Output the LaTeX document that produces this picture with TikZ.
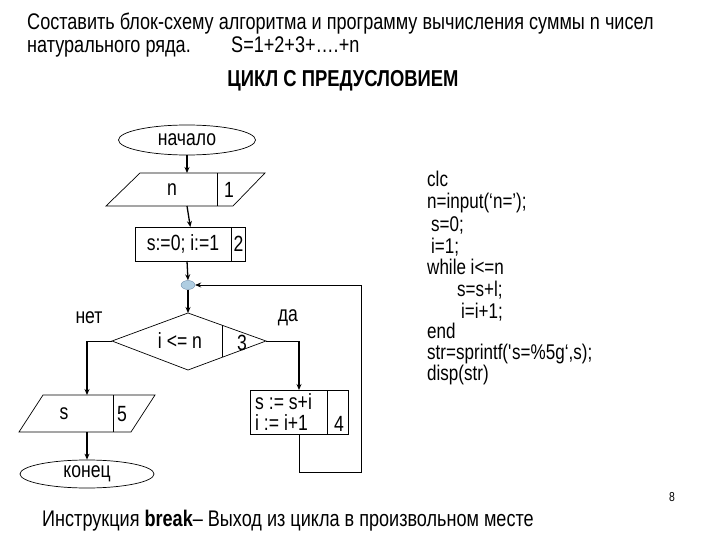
\documentclass[tikz,border=0pt]{standalone}
\usepackage{fontspec}
\setmainfont[FakeStretch=0.8]{Liberation Sans}
\usetikzlibrary{arrows.meta,shapes.geometric}

\begin{document}
\begin{tikzpicture}[x=1pt,y=-1pt,
  big/.style={font=\fontsize{22.6}{22.6}\selectfont, inner sep=0pt},
  lbl/.style={font=\fontsize{22}{22}\selectfont, inner sep=0pt},
  code/.style={font=\fontsize{21.3}{21.3}\selectfont, inner sep=0pt, anchor=base west},
  outline/.style={draw=black, line width=0.7pt},
  flowarr/.style={line width=1.3pt, -{Stealth[length=6pt,width=5pt]}},
  thinline/.style={line width=0.7pt}]
\useasboundingbox (0,0) rectangle (720,540);

% heading
\node[big, anchor=base west] (task1) at (27,30) {Составить блок-схему алгоритма и программу вычисления суммы n чисел};
\node[big, anchor=base west] (task2) at (27,53) {натурального ряда.};
\node[big, anchor=base west] (sum) at (231,53) {S=1+2+3+….+n};
\node[font=\fontsize{23}{23}\selectfont\bfseries, inner sep=0pt] (head) at (343,81) {ЦИКЛ С ПРЕДУСЛОВИЕМ};

% start
\node[outline, ellipse, minimum width=137, minimum height=30, lbl] (beg) at (187,140) {начало};

% block 1: input n
\draw[outline] (140,173) -- (265,173) -- (233,206) -- (106,206) -- cycle;
\draw[outline] (217,173) -- (217,206);
\node[lbl] (inN) at (172,190) {n};
\node[lbl] (num1) at (229,190) {1};
\coordinate (inTop) at (187,173);
\coordinate (inBot) at (187,206);

% block 2: init
\node[outline, minimum width=110, minimum height=34, anchor=north west] (init) at (135,227) {};
\draw[outline] (231,227) -- (231,261);
\node[lbl] (initTxt) at (183,244) {s:=0; i:=1};
\node[lbl] (num2) at (238.5,244) {2};
\coordinate (initBot) at (187,261);

% junction
\node[ellipse, draw={rgb,255:red,110;green,140;blue,170}, fill={rgb,255:red,175;green,205;blue,225},
  minimum width=14, minimum height=9, inner sep=0pt] (jn) at (188,285) {};

% block 3: condition
\coordinate (dTop) at (188,313);
\coordinate (dLeft) at (112,341);
\coordinate (dRight) at (266,341);
\coordinate (dBot) at (188,370);
\draw[outline] (dTop) -- (dRight) -- (dBot) -- (dLeft) -- cycle;
\draw[outline] (222,325) -- (222,357);
\node[lbl] (cond) at (180,341) {i <= n};
\node[lbl] (num3) at (242,343) {3};
\node[lbl] (no) at (89,318) {нет};
\node[lbl] (yes) at (288,318) {да};

% block 4: body
\node[outline, minimum width=98, minimum height=44, anchor=north west] (body) at (250,390) {};
\draw[outline] (327,390) -- (327,434);
\node[lbl, anchor=west] (body1) at (255,402) {s := s+i};
\node[lbl, anchor=west] (body2) at (255,423) {i := i+1};
\node[lbl] (num4) at (339,424) {4};
\coordinate (bodyTop) at (299,390);
\coordinate (bodyBot) at (299,434);
\coordinate (loopA) at (299,472);
\coordinate (loopB) at (361,472);
\coordinate (loopC) at (361,285);

% block 5: output s
\draw[outline] (43,395) -- (155,395) -- (131,432) -- (19,432) -- cycle;
\draw[outline] (113,395) -- (113,432);
\node[lbl] (outS) at (64,414) {s};
\node[lbl] (num5) at (122,414) {5};
\coordinate (outTop) at (87,395);
\coordinate (outBot) at (87,432);

% end
\node[outline, ellipse, minimum width=134, minimum height=28, lbl] (fin) at (87,474) {конец};

% connectors
\draw[flowarr] (beg.south) -- (inTop);
\draw[flowarr] (inBot) -- (init.north);
\draw[flowarr] (initBot) -- (jn.north);
\draw[flowarr] (jn.south) -- (dTop);
\draw[thinline] (dLeft) -- (dLeft -| outTop);
\draw[flowarr] (dLeft -| outTop) -- (outTop);
\draw[thinline] (dRight) -- (dRight -| bodyTop);
\draw[flowarr] (dRight -| bodyTop) -- (bodyTop);
\draw[thinline, -{Stealth[length=6pt,width=5pt]}] (bodyBot) -- (loopA) -- (loopB) -- (loopC) -- (jn.east);
\draw[flowarr] (outBot) -- (fin.north);

% program text
\node[code] (c1) at (427,187) {clc};
\node[code] (c2) at (427,209) {n=input(‘n=’);};
\node[code] (c3) at (431,231) {s=0;};
\node[code] (c4) at (431,253) {i=1;};
\node[code] (c5) at (427,274) {while i<=n};
\node[code] (c6) at (457,296) {s=s+l;};
\node[code] (c7) at (461,318) {i=i+1;};
\node[code] (c8) at (427,338) {end};
\node[code] (c9) at (427,359) {str=sprintf(\textquotesingle s=\%5g‘,s);};
\node[code] (c10) at (427,380) {disp(str)};

% footer
\node[font=\fontsize{13}{13}\selectfont, inner sep=0pt] (page) at (672,497) {8};
\node[big, anchor=base west] (note) at (42,526) {Инструкция \textbf{break}– Выход из цикла в произвольном месте};
\end{tikzpicture}
\end{document}
